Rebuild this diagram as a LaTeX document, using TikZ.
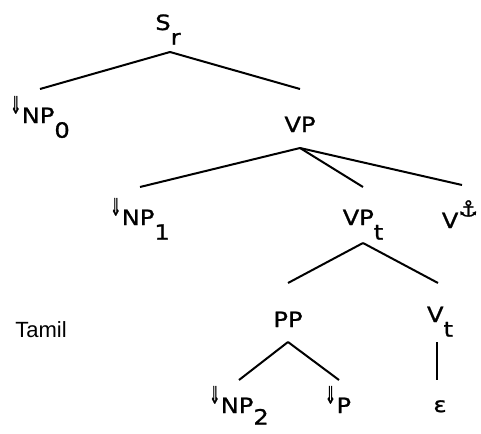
\documentclass[tikz,border=0pt]{standalone}
\usepackage{fontspec}
\newfontfamily\labfont[FakeStretch=1.15,FakeBold=1.2]{DejaVu Sans}
\newfontfamily\symfont[FakeBold=1.2]{DejaVu Sans}
\newfontfamily\tamfont{Liberation Sans}
\newcommand\dn{\raisebox{0.45em}{\scalebox{0.55}[1]{\fontsize{24}{24}\symfont ⇓}}\kern0.5pt}
\newcommand\sbs[2][-0.7em]{\raisebox{#1}{#2}}
\newcommand\anc{\raisebox{0.55em}{\fontsize{22}{22}\symfont ⚓}}
\begin{document}
\begin{tikzpicture}[x=1pt,y=-1pt,
  lab/.style={inner sep=0pt,anchor=base,font=\fontsize{21}{23}\labfont},
  br/.style={line width=2pt}]
\useasboundingbox (0,0) rectangle (481,433);
\node[lab] (sr)   at (168,30)  {S\sbs{r}};
\node[lab] (np0)  at (40,123)  {\dn NP\sbs{0}};
\node[lab] (vp)   at (300,132) {VP};
\node[lab] (np1)  at (140,225) {\dn NP\sbs{1}};
\node[lab] (vpt)  at (363,225) {VP\sbs{t}};
\node[lab] (vanc) at (460,228) {V\anc};
\node[lab] (pp)   at (288,327) {PP};
\node[lab] (vt)   at (440,322) {V\sbs{t}};
\node[lab] (np2)  at (239,413) {\dn NP\sbs[-0.55em]{2}};
\node[lab] (p)    at (338,413) {\dn P};
\node[lab] (eps)  at (440,412) {ε};
\node[inner sep=0pt,anchor=base,font=\fontsize{22}{24}\tamfont] (tamil) at (41,337) {Tamil};
\draw[br] ([xshift=2pt,yshift=-22pt]sr.base) -- ([yshift=34pt]np0.base);
\draw[br] ([xshift=2pt,yshift=-22pt]sr.base) -- ([yshift=43pt]vp.base);
\draw[br] ([yshift=-16pt]vp.base) -- ([yshift=38pt]np1.base);
\draw[br] ([yshift=-16pt]vp.base) -- ([yshift=38pt]vpt.base);
\draw[br] ([yshift=-16pt]vp.base) -- ([xshift=2pt,yshift=43pt]vanc.base);
\draw[br] ([yshift=-18pt]vpt.base) -- ([yshift=44pt]pp.base);
\draw[br] ([yshift=-18pt]vpt.base) -- ([xshift=-2pt,yshift=39pt]vt.base);
\draw[br] ([yshift=-15pt]pp.base) -- ([yshift=33pt]np2.base);
\draw[br] ([yshift=-15pt]pp.base) -- ([xshift=1pt,yshift=33pt]p.base);
\draw[br] ([xshift=-3pt,yshift=-20pt]vt.base) -- ([xshift=-3pt,yshift=32pt]eps.base);
\end{tikzpicture}
\end{document}
